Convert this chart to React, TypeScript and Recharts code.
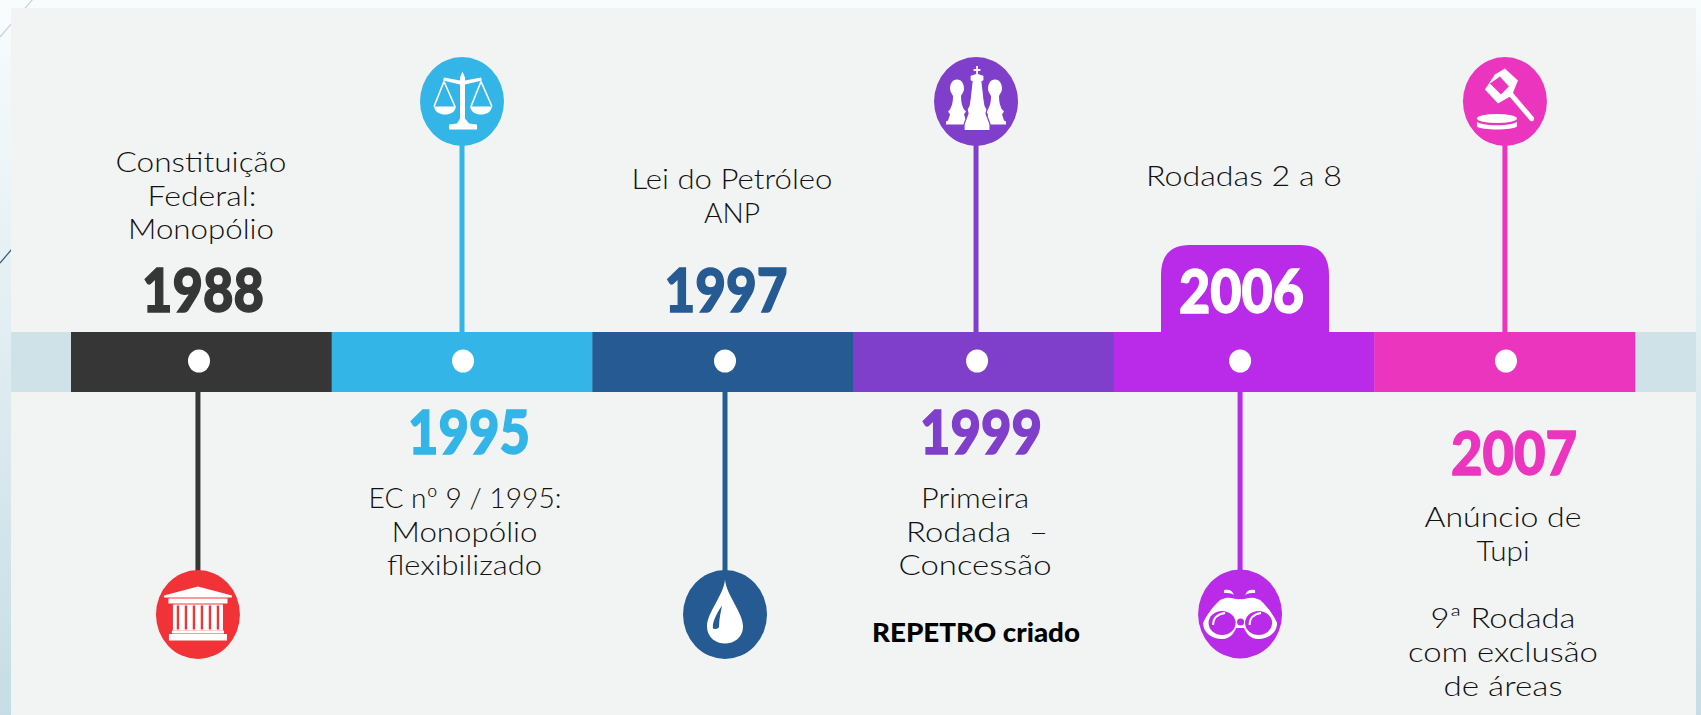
import { Bar, Cell, ComposedChart, ReferenceArea, Scatter, XAxis, YAxis } from "recharts"

const WIDTH = 1701
const HEIGHT = 715

// the timeline is one slot per milestone, heights are measured from the middle of the track
const years = ["1988", "1995", "1997", "1999", "2006", "2007"]
const colors = ["#363636", "#33b5e8", "#265a92", "#7f3fcb", "#b92be8", "#ec35bf"]
const pinColors = ["#f13338", "#33b5e8", "#265a92", "#7f3fcb", "#b92be8", "#ec35bf"]
const trackRange = [-31, 29]
const stemSlots = [0.487, 1.5, 2.509, 3.472, 4.485, 5.501]
const dotSlots = [0.491, 1.504, 2.509, 3.476, 4.485, 5.505]
const pinHeights = [-253.5, 259.5, -253.5, 259.5, -253, 259.5]
const noteLines = [
  ["Constituição", "Federal:", "Monopólio"],
  ["EC nº 9 / 1995:", "Monopólio", "flexibilizado"],
  ["Lei do Petróleo", "ANP"],
  ["Primeira", "Rodada  –", "Concessão", "REPETRO criado"],
  ["Rodadas 2 a 8"],
  ["Anúncio de", "Tupi", "9ª Rodada", "com exclusão", "de áreas"],
]

// text placement: [centre x, baseline y, width] in page pixels
const yearPlacement = [
  [203, 312, 122],
  [469, 454, 122],
  [726, 312, 123],
  [981, 454, 122],
  [1241.5, 313, 125],
  [1514, 475, 126],
]
const notePlacement = [
  [[201, 172, 171], [202, 206, 109], [201, 239, 146]],
  [[465, 508, 193], [464.5, 542, 146], [464.5, 575, 155]],
  [[732, 189, 201], [732, 223, 56]],
  [[975, 508, 108], [977, 542, 142], [975, 575, 153], [976, 642, 208]],
  [[1244, 186, 196]],
  [[1503, 527, 157], [1503, 561, 53], [1503, 628, 145], [1503, 662, 190], [1503, 696, 119]],
]

const TRACK_LEFT = 71
const TRACK_RIGHT = 1635
const MID_Y = 361
const toSlot = (px: number) => ((px - TRACK_LEFT) / (TRACK_RIGHT - TRACK_LEFT)) * years.length
const toHeight = (py: number) => MID_Y - py

const trackRows = years.map((year) => ({ year, track: trackRange }))
const dotRows = dotSlots.map((slot) => ({ slot, height: 0 }))
const pinRows = stemSlots.map((slot, i) => ({ slot, height: pinHeights[i], index: i }))
const stemRows = stemSlots.map((slot, i) => [
  { slot, height: pinHeights[i] > 0 ? trackRange[1] : trackRange[0] },
  { slot, height: pinHeights[i] },
])
const yearRows = years.map((year, i) => ({
  slot: toSlot(yearPlacement[i][0]),
  height: toHeight(yearPlacement[i][1]),
  text: year,
  width: yearPlacement[i][2],
  color: i === 4 ? "#ffffff" : colors[i],
}))
const noteRows = noteLines.flatMap((lines, i) =>
  lines.map((text, j) => ({
    slot: toSlot(notePlacement[i][j][0]),
    height: toHeight(notePlacement[i][j][1]),
    width: notePlacement[i][j][2],
    text,
    bold: text === "REPETRO criado",
  })),
)

function TempleIcon() {
  const columns = [-20, -12, -4, 4, 12, 20]
  return (
    <g fill="#fff">
      <path d="M-34 -19 L0 -28 L34 -19 L34 -17 L-34 -17 Z" />
      <rect x={-29.5} y={-16} width={59} height={5} />
      <rect x={-25} y={-10} width={50} height={26} />
      {columns.map((c) => (
        <rect key={c} x={c - 1.2} y={-9} width={2.4} height={24} fill="#f13338" />
      ))}
      <rect x={-26} y={16} width={52} height={3} />
      <rect x={-29} y={19.5} width={58} height={6.5} />
    </g>
  )
}

function ScaleIcon() {
  return (
    <g>
      <path
        d="M0.5 -30 L3 -24 L3 -21 L19 -24 L20 -21 L3 -17 L3 17 L7 22 L15 23 L15 28 L-13 28 L-13 23 L-5 22 L-2 17 L-2 -17 L-19 -21 L-18 -24 L-2 -21 L-2 -24 Z"
        fill="#fff"
      />
      <path d="M-18 -20 L-28 5 M-18 -20 L-7 5 M19 -20 L9 5 M19 -20 L30 5" stroke="#fff" strokeWidth={1.6} fill="none" />
      <path d="M-28 5 L-6 5 C-7 11 -12 13 -17 13 C-22 13 -27 11 -28 5 Z" fill="#fff" />
      <path d="M8 5 L30 5 C29 11 24 13 19 13 C14 13 9 11 8 5 Z" fill="#fff" />
    </g>
  )
}

function DropIcon() {
  return (
    <g>
      <path d="M0 -35 C1 -20 18 -2 18 12 C18 23 9 29 0 29 C-9 29 -18 23 -18 12 C-18 -2 -1 -20 0 -35 Z" fill="#fff" />
      <path d="M-3 -9 C-9 0 -13 8 -12 14 C-9 15 -6 14 -6 12 C-6 4 -4 -3 -3 -9 Z" fill="#265a92" />
    </g>
  )
}

function ChessIcon() {
  const pawn = "M0 -22 C5 -22 7 -17 7 -13 C7 -9 4 -7 4 -5 C4 2 6 6 7 8 L9 10 L7 13 L9 19 L11 20 L11 23 L-11 23 L-11 20 L-9 19 L-7 13 L-9 10 L-7 8 C-6 6 -4 2 -4 -5 C-4 -7 -7 -9 -7 -13 C-7 -17 -5 -22 0 -22 Z"
  return (
    <g fill="#fff">
      <g transform="translate(-19 0)"><path d={pawn} /></g>
      <g transform="translate(19 0)"><path d={pawn} /></g>
      <path
        d="M-0.5 -36 L2.5 -36 L2.5 -33 L5 -33 L5 -30 L2.5 -30 L2.5 -28 L8 -26 L8 -21 L6 -20 L8 -2 L9 4 L11 8 L10 12 L13 20 L14 23 L14 29 L-12 29 L-12 23 L-11 20 L-8 12 L-9 8 L-7 4 L-6 -2 L-4 -20 L-6 -21 L-6 -26 L-0.5 -28 L-0.5 -30 L-3 -30 L-3 -33 L-0.5 -33 Z"
        stroke="#7f3fcb"
        strokeWidth={1.2}
      />
    </g>
  )
}

function GavelIcon() {
  return (
    <g fill="#fff">
      <path d="M-20 -12 L-10 -27 L0 -33 L13 -21 L7 -6 L-7 2 Z" />
      <path d="M-15 -18 L-5 -25 L4 -15 L-4 -7 Z" fill="#ec35bf" />
      <path d="M2 -8 L6 -11 L29 16 C30 19 27 21 25 19 Z" />
      <ellipse cx={-8} cy={17} rx={20} ry={4.5} />
      <path d="M-28 20 C-24 25 8 25 12 20 L12 25 C8 29 -24 29 -28 25 Z" />
    </g>
  )
}

function BinocularsIcon() {
  return (
    <g>
      <path
        d="M-20 -14 C-10 -19 -6 -14 0 -15 C6 -14 10 -19 20 -14 C27 -8 34 2 37 9 C37 19 28 25 18 25 C10 25 6 19 4 14 L-4 14 C-6 19 -10 25 -18 25 C-28 25 -37 19 -37 9 C-34 2 -27 -8 -20 -14 Z"
        fill="#fff"
      />
      <ellipse cx={-18} cy={9} rx={13.5} ry={12} fill="#b92be8" />
      <ellipse cx={18.5} cy={9} rx={13.5} ry={12} fill="#b92be8" />
      <path d="M-27 11 C-27 3 -22 0 -15 -1" stroke="#fff" strokeWidth={2} fill="none" />
      <path d="M9.5 11 C9.5 3 14 0 21 -1" stroke="#fff" strokeWidth={2} fill="none" />
      <ellipse cx={0.5} cy={8} rx={3.5} ry={3.5} fill="#b92be8" />
      <path d="M-16 -24 C-11 -25 -8 -24 -6 -19 C-9 -21 -12 -21 -16 -21 Z" fill="#fff" />
      <path d="M15 -24 C10 -25 7 -24 5 -19 C8 -21 11 -21 15 -21 Z" fill="#fff" />
    </g>
  )
}

const icons = [TempleIcon, ScaleIcon, DropIcon, ChessIcon, BinocularsIcon, GavelIcon]

function Pin({ cx, cy, payload }: any) {
  const Icon = icons[payload.index]
  return (
    <g transform={`translate(${cx} ${cy})`}>
      <ellipse rx={42} ry={44.5} fill={pinColors[payload.index]} />
      <Icon />
    </g>
  )
}

function Dot({ cx, cy }: any) {
  return <ellipse cx={cx} cy={cy} rx={11} ry={11.5} fill="#fff" />
}

function YearLabel({ cx, cy, payload }: any) {
  return (
    <text
      x={cx}
      y={cy}
      textAnchor="middle"
      fontFamily="Lato"
      fontWeight={900}
      fontSize={60}
      fill={payload.color}
      stroke={payload.color}
      strokeWidth={1.4}
      textLength={payload.width}
      lengthAdjust="spacingAndGlyphs"
    >
      {payload.text}
    </text>
  )
}

function NoteLabel({ cx, cy, payload }: any) {
  return (
    <text
      x={cx}
      y={cy}
      textAnchor="middle"
      fontFamily="Lato"
      fontWeight={payload.bold ? 900 : 300}
      fontSize={payload.bold ? 26 : 28}
      fill={payload.bold ? "#000" : "#111"}
      textLength={payload.width}
      lengthAdjust="spacingAndGlyphs"
      style={{ whiteSpace: "pre" }}
    >
      {payload.text}
    </text>
  )
}

function YearTab({ x, y, width, height }: any) {
  const rx = 29
  const ry = 30
  return (
    <path
      d={`M${x} ${y + height} L${x} ${y + ry} Q${x} ${y} ${x + rx} ${y} L${x + width - rx} ${y} Q${x + width} ${y} ${x + width} ${y + ry} L${x + width} ${y + height} Z`}
      fill={colors[4]}
    />
  )
}

const Nothing = () => <g />

export default function App() {
  return (
    <div
      style={{
        position: "absolute",
        left: 0,
        top: 0,
        width: WIDTH,
        height: HEIGHT,
        overflow: "hidden",
        background: "linear-gradient(180deg, #f8fcfd 0%, #c6dde5 100%)",
      }}
    >
      <svg width={WIDTH} height={HEIGHT} style={{ position: "absolute", left: 0, top: 0 }}>
        <line x1={33} y1={-1} x2={0} y2={37} stroke="#c9d3d6" strokeWidth={1.2} />
        <line x1={12} y1={249} x2={0} y2={263} stroke="#2e5c7f" strokeWidth={1.2} />
      </svg>
      <div style={{ position: "absolute", left: 11, top: 8, width: 1685, height: 707, background: "#f2f4f4" }} />
      <div style={{ position: "absolute", left: 0, top: 0 }}>
        <ComposedChart
          width={WIDTH}
          height={HEIGHT}
          data={trackRows}
          margin={{ top: 0, right: 0, bottom: 0, left: 0 }}
          barCategoryGap={0}
        >
          <XAxis xAxisId="cat" dataKey="year" hide padding={{ left: TRACK_LEFT, right: WIDTH - TRACK_RIGHT }} />
          <XAxis
            xAxisId="pos"
            type="number"
            dataKey="slot"
            domain={[0, years.length]}
            allowDataOverflow
            hide
            padding={{ left: TRACK_LEFT, right: WIDTH - TRACK_RIGHT }}
          />
          <YAxis type="number" dataKey="height" domain={[MID_Y - HEIGHT, MID_Y]} allowDataOverflow hide />
          <ReferenceArea
            xAxisId="pos"
            x1={toSlot(11)}
            x2={toSlot(1696)}
            y1={trackRange[0]}
            y2={trackRange[1]}
            fill="#cfe2e8"
            fillOpacity={1}
            stroke="none"
            ifOverflow="visible"
          />
          <ReferenceArea
            xAxisId="pos"
            x1={toSlot(1161)}
            x2={toSlot(1329)}
            y1={trackRange[1] - 1}
            y2={toHeight(245)}
            shape={<YearTab />}
            ifOverflow="visible"
          />
          <Bar xAxisId="cat" dataKey="track" isAnimationActive={false}>
            {years.map((year, i) => (
              <Cell key={year} fill={colors[i]} />
            ))}
          </Bar>
          {stemRows.map((rows, i) => (
            <Scatter
              key={years[i]}
              xAxisId="pos"
              data={rows}
              dataKey="height"
              line={{ stroke: colors[i], strokeWidth: 5 }}
              shape={<Nothing />}
              isAnimationActive={false}
            />
          ))}
          <Scatter xAxisId="pos" data={dotRows} dataKey="height" shape={<Dot />} isAnimationActive={false} />
          <Scatter xAxisId="pos" data={pinRows} dataKey="height" shape={<Pin />} isAnimationActive={false} />
          <Scatter xAxisId="pos" data={yearRows} dataKey="height" shape={<YearLabel />} isAnimationActive={false} />
          <Scatter xAxisId="pos" data={noteRows} dataKey="height" shape={<NoteLabel />} isAnimationActive={false} />
        </ComposedChart>
      </div>
    </div>
  )
}
